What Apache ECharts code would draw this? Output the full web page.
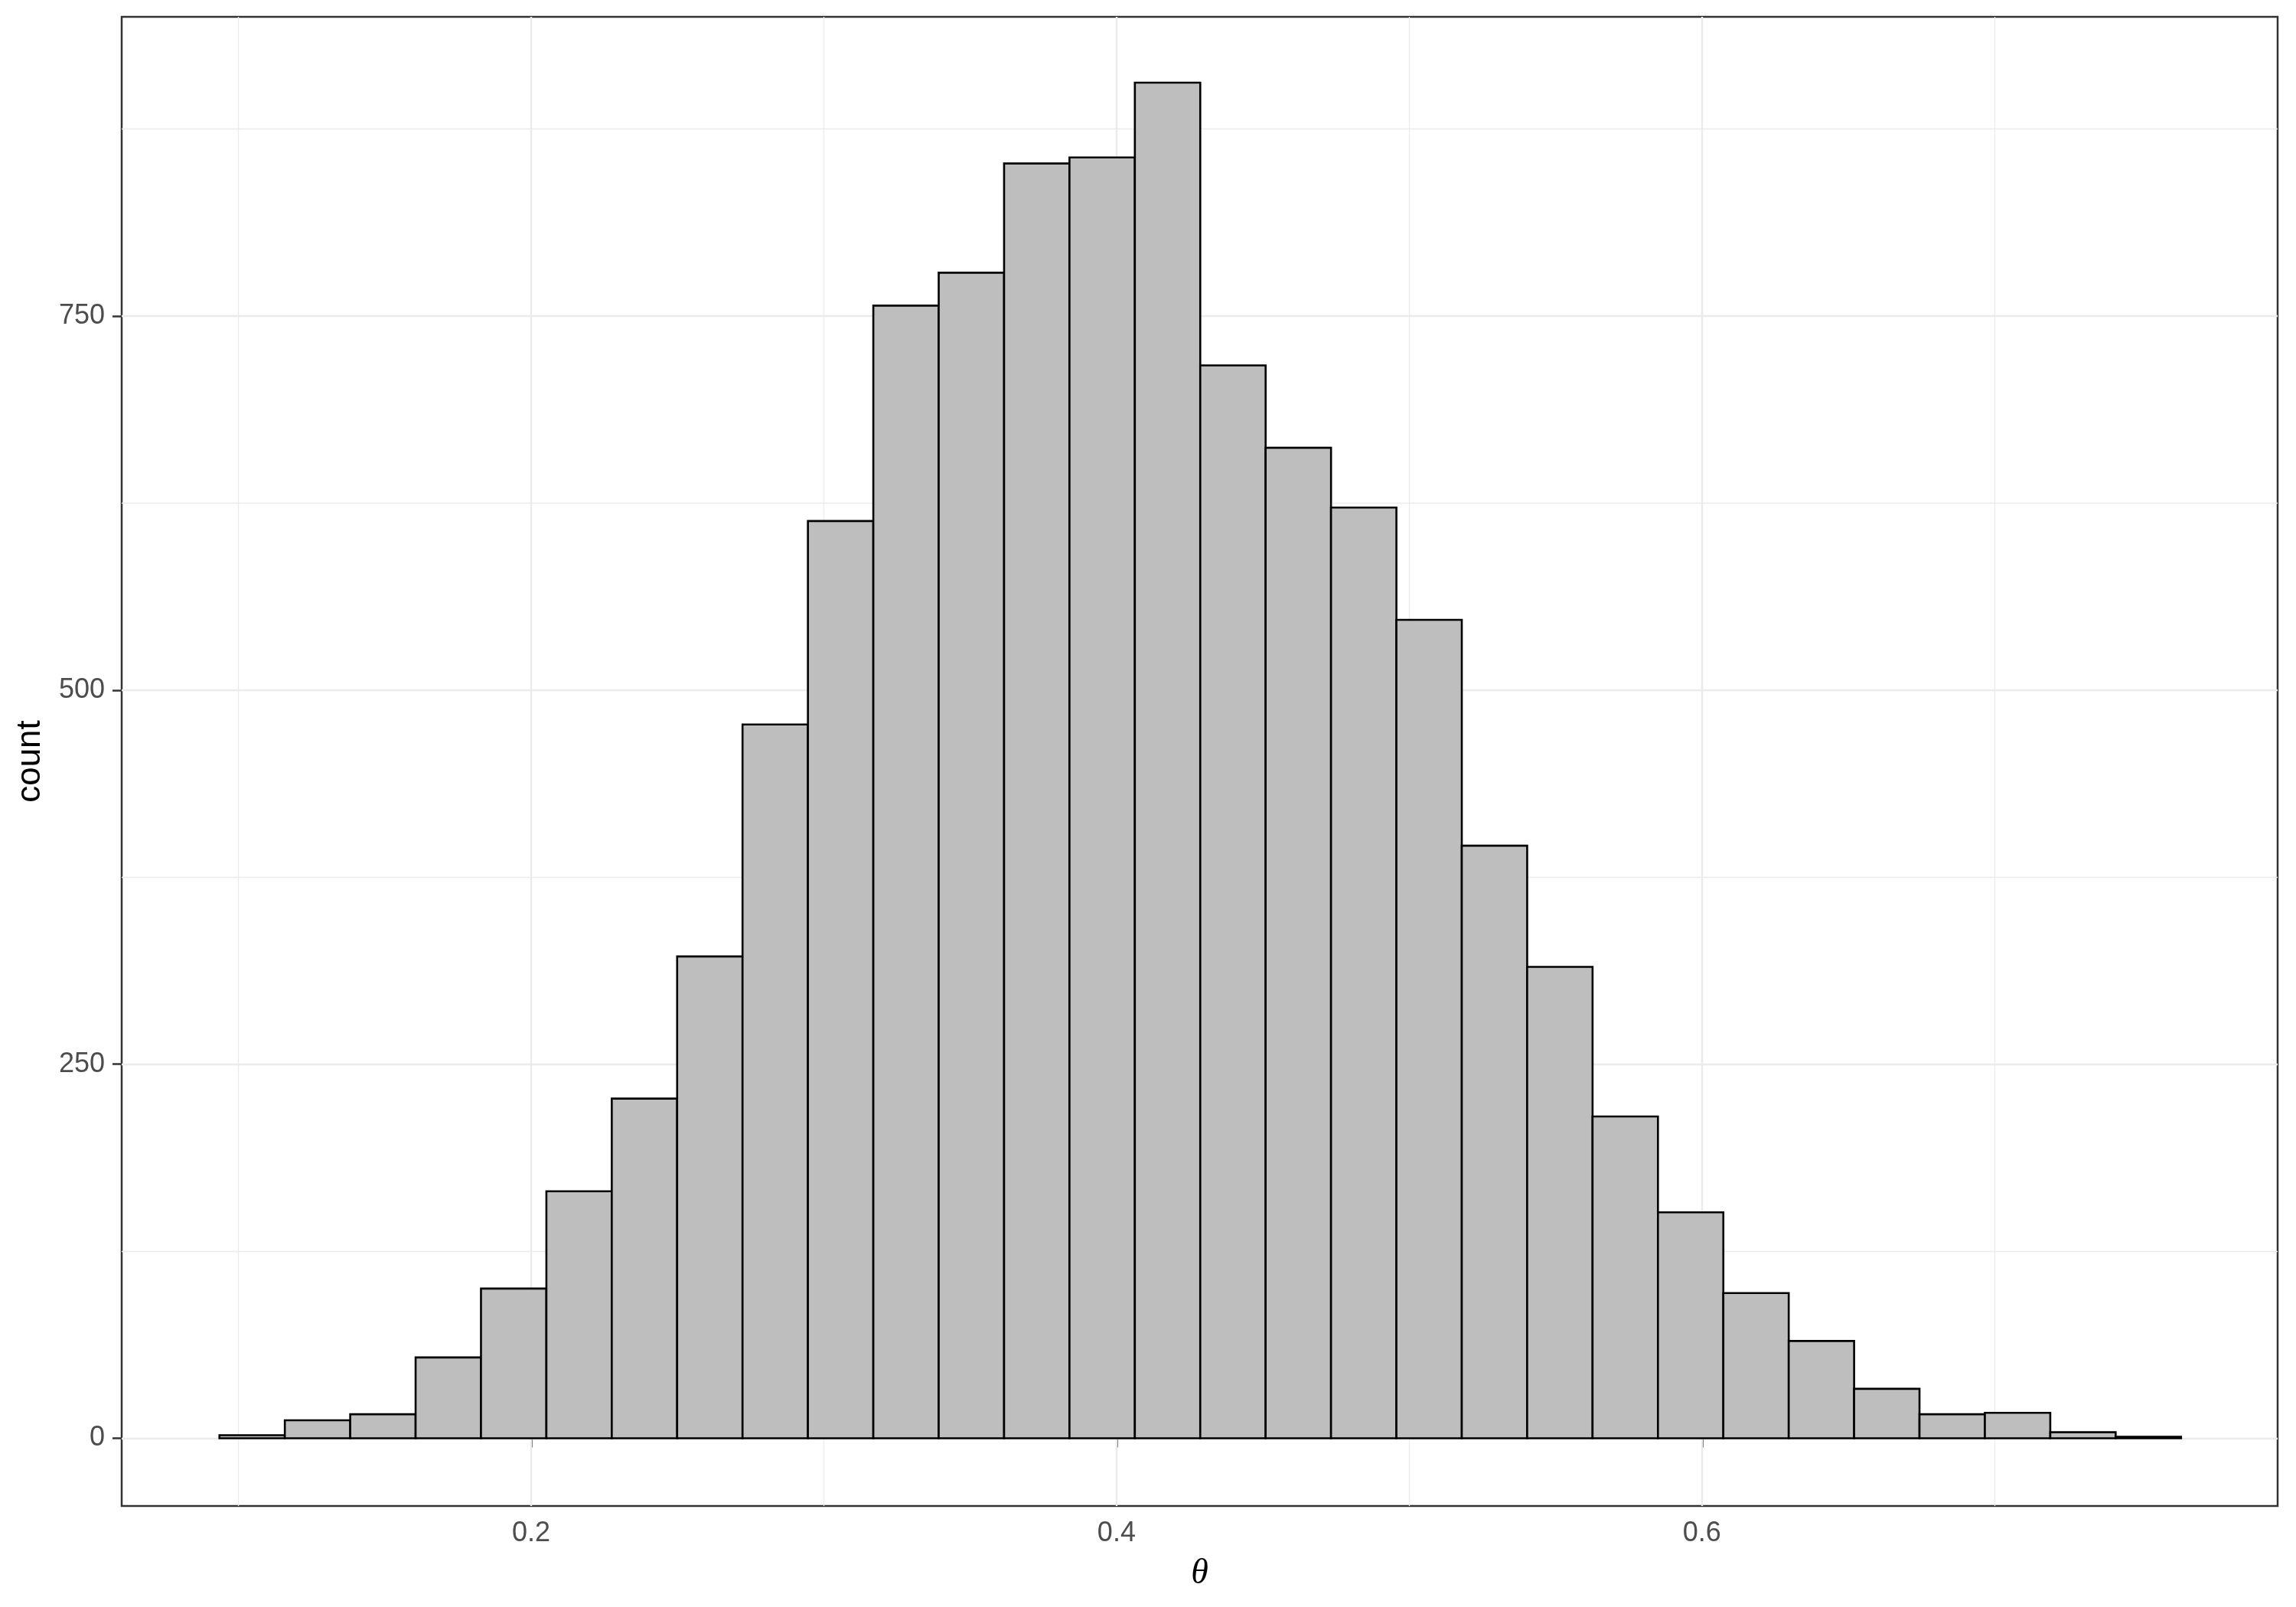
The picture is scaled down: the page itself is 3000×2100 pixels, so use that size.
<!DOCTYPE html>
<html>
<head>
<meta charset="utf-8">
<title>theta histogram</title>
<script src="https://cdn.jsdelivr.net/npm/echarts@6/dist/echarts.min.js"></script>
<style>
  html, body { margin: 0; padding: 0; background: #fff; }
  #chart { width: 3000px; height: 2100px; }
</style>
</head>
<body>
<div id="chart"></div>
<script>
// histogram counts (30 bins)
var counts = [2, 12, 16, 54, 100, 165, 227, 322, 477, 613,
              757, 779, 852, 856, 906, 717, 662, 622, 547, 396,
              315, 215, 151, 97, 65, 33, 16, 17, 4, 1];
var binStart = 0.0935;
var binWidth = 0.02234;

var xTicks = [0.2, 0.4, 0.6];
var xMinor = [0.1, 0.3, 0.5, 0.7];
var yTicks = [0, 250, 500, 750];
var yMinor = [125, 375, 625, 875];

var bins = counts.map(function (c, i) {
  var lo = binStart + i * binWidth;
  return [lo, lo + binWidth, c];
});

var gridLines = [];
xTicks.forEach(function (v) { gridLines.push({ xAxis: v, lineStyle: { width: 2.4 } }); });
xMinor.forEach(function (v) { gridLines.push({ xAxis: v, lineStyle: { width: 1.3 } }); });
yTicks.forEach(function (v) { gridLines.push({ yAxis: v, lineStyle: { width: 2.4 } }); });
yMinor.forEach(function (v) { gridLines.push({ yAxis: v, lineStyle: { width: 1.3 } }); });

var chart = echarts.init(document.getElementById('chart'), null, { renderer: 'canvas' });

var option = {
  backgroundColor: '#ffffff',
  animation: false,
  grid: {
    left: 159, right: 24, top: 22, bottom: 132,
    show: true,
    backgroundColor: '#ffffff',
    borderColor: '#333333',
    borderWidth: 2.5
  },
  xAxis: {
    type: 'value',
    min: 0.0601,
    max: 0.7967,
    name: 'θ',
    nameLocation: 'middle',
    nameGap: 66,
    nameTextStyle: { fontFamily: 'Liberation Serif', fontStyle: 'italic', fontSize: 46, color: '#000' },
    axisLine: { show: false },
    splitLine: { show: false },
    axisTick: { show: true, length: 12, customValues: xTicks, lineStyle: { color: '#333333', width: 2.5 } },
    axisLabel: {
      customValues: xTicks, margin: 18,
      fontFamily: 'Liberation Sans', fontSize: 36, color: '#4D4D4D',
      formatter: function (v) { return v.toFixed(1); }
    }
  },
  yAxis: {
    type: 'value',
    min: -45.3,
    max: 950,
    name: 'count',
    nameLocation: 'middle',
    nameRotate: 90,
    nameGap: 97,
    nameTextStyle: { fontFamily: 'Liberation Sans', fontSize: 44, color: '#000' },
    axisLine: { show: false },
    splitLine: { show: false },
    axisTick: { show: true, length: 12, customValues: yTicks, lineStyle: { color: '#333333', width: 2.5 } },
    axisLabel: {
      customValues: yTicks, margin: 22,
      fontFamily: 'Liberation Sans', fontSize: 36, color: '#4D4D4D'
    }
  },
  series: [
    {
      type: 'line',
      data: [],
      silent: true,
      z: 1,
      markLine: {
        silent: true,
        z: 1,
        symbol: ['none', 'none'],
        label: { show: false },
        lineStyle: { color: '#EBEBEB', type: 'solid' },
        data: gridLines
      }
    },
    {
      type: 'custom',
      z: 3,
      data: bins,
      encode: { x: [0, 1], y: 2 },
      renderItem: function (params, api) {
        var p0 = api.coord([api.value(0), api.value(2)]);
        var p1 = api.coord([api.value(1), 0]);
        return {
          type: 'rect',
          shape: { x: p0[0], y: p0[1], width: p1[0] - p0[0], height: p1[1] - p0[1] },
          style: { fill: '#BEBEBE', stroke: '#000000', lineWidth: 2.6 }
        };
      }
    }
  ]
};

chart.setOption(option);
</script>
</body>
</html>
